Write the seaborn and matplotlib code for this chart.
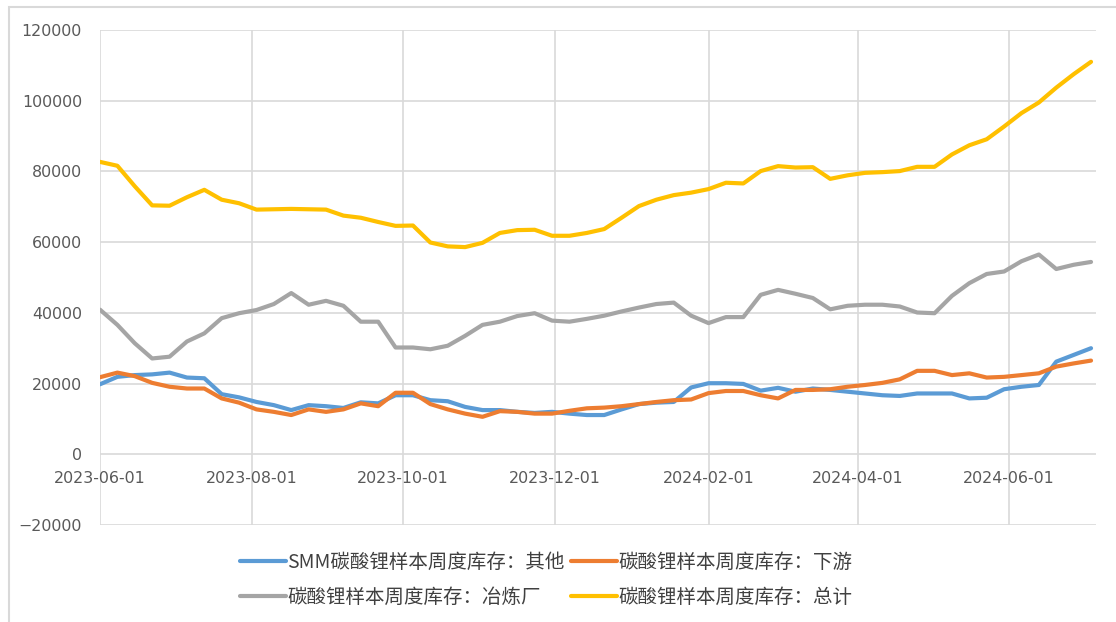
import pandas as pd
import matplotlib.pyplot as plt
import matplotlib.dates as mdates
from matplotlib.patches import Rectangle
import seaborn as sns

# weekly dates, 2023-06-01 .. 2024-07-04
dates = pd.date_range('2023-06-01', periods=58, freq='7D')

other = [19800, 21900, 22400, 22600, 23100, 21700, 21500, 17000, 16100, 14800,
         13900, 12500, 13900, 13600, 13100, 14700, 14400, 16700, 16700, 15300,
         15000, 13400, 12500, 12500, 12000, 11700, 12000, 11500, 11100, 11100,
         12700, 14200, 14600, 14800, 18900, 20100, 20100, 19900, 18000, 18800,
         17700, 18600, 18200, 17700, 17200, 16700, 16500, 17200, 17200, 17200,
         15800, 16000, 18400, 19100, 19600, 26200, 28100, 30000]

downstream = [21800, 23100, 22100, 20200, 19100, 18600, 18600, 15800, 14600, 12700,
              12000, 11100, 12700, 12000, 12700, 14400, 13600, 17400, 17400, 14200,
              12700, 11500, 10600, 12200, 12000, 11500, 11500, 12300, 13000, 13200,
              13600, 14200, 14800, 15300, 15500, 17300, 17900, 17900, 16700, 15800,
              18200, 18200, 18400, 19100, 19600, 20200, 21200, 23600, 23600, 22400,
              22900, 21700, 21900, 22400, 22900, 24800, 25700, 26500]

smelter = [40900, 36600, 31400, 27100, 27600, 31900, 34200, 38500, 39900, 40800,
           42500, 45600, 42300, 43400, 42000, 37500, 37500, 30200, 30200, 29700,
           30700, 33500, 36600, 37500, 39100, 39900, 37800, 37500, 38300, 39200,
           40400, 41500, 42500, 42900, 39200, 37100, 38800, 38800, 45100, 46500,
           45400, 44200, 41000, 42000, 42300, 42300, 41800, 40100, 39900, 44800,
           48400, 51000, 51700, 54600, 56500, 52400, 53600, 54400]

total = [82700, 81600, 75800, 70400, 70300, 72700, 74800, 72000, 71000, 69200,
         69300, 69400, 69300, 69200, 67500, 66900, 65700, 64600, 64700, 59900,
         58800, 58600, 59800, 62600, 63400, 63500, 61800, 61800, 62600, 63700,
         66900, 70200, 72000, 73300, 74000, 75000, 76800, 76600, 80100, 81500,
         81100, 81200, 77900, 78900, 79600, 79800, 80100, 81300, 81300, 84800,
         87400, 89100, 92700, 96500, 99500, 103700, 107500, 111000]

labels = {
    'other': 'SMM碳酸锂样本周度库存：其他',
    'downstream': '碳酸锂样本周度库存：下游',
    'smelter': '碳酸锂样本周度库存：冶炼厂',
    'total': '碳酸锂样本周度库存：总计',
}
colors = {
    'other': '#5B9BD5',
    'downstream': '#ED7D31',
    'smelter': '#A5A5A5',
    'total': '#FFC000',
}

sns.set_theme(style='white')
plt.rcParams['font.family'] = ['DejaVu Sans', 'Noto Sans CJK SC']

fig = plt.figure(figsize=(11.16, 6.22), dpi=100)
ax = fig.add_axes([100 / 1116, 1 - 525 / 622, 996 / 1116, 495 / 622])

series = {'other': other, 'downstream': downstream, 'smelter': smelter, 'total': total}
for key, vals in series.items():
    sns.lineplot(x=dates, y=vals, ax=ax, color=colors[key], lw=3.0,
                 label=labels[key], legend=False,
                 solid_capstyle='round', solid_joinstyle='round')

ax.set_ylim(-20000, 120000)
ax.set_yticks(range(-20000, 120001, 20000))
ax.set_xlim(pd.Timestamp('2023-06-01'), pd.Timestamp('2024-07-06'))
ax.xaxis.set_major_locator(mdates.MonthLocator(bymonth=[2, 4, 6, 8, 10, 12]))
ax.xaxis.set_major_formatter(mdates.DateFormatter('%Y-%m-%d'))

ax.grid(True, color='#D9D9D9', lw=1.2)
for s in ax.spines.values():
    s.set_visible(False)
ax.spines['bottom'].set_position(('data', 0))
ax.tick_params(axis='both', length=0, labelsize=11.4, colors='#595959')
ax.tick_params(axis='x', pad=12)
ax.tick_params(axis='y', pad=13)
ax.set_xlabel('')
ax.set_ylabel('')

# legend, column-wise order: other, smelter | downstream, total
h, l = ax.get_legend_handles_labels()
lookup = dict(zip(l, h))
order = ['other', 'smelter', 'downstream', 'total']
fig.legend([lookup[labels[k]] for k in order], [labels[k] for k in order],
           ncol=2, loc='center', bbox_to_anchor=(546 / 1116, 1 - 580 / 622),
           frameon=False, prop={'family': 'Noto Sans CJK SC', 'size': 14},
           handlelength=2.4, handletextpad=0.05, columnspacing=0.3,
           labelspacing=0.75, labelcolor='#404040')

# chart area border
fig.add_artist(Rectangle((9 / 1116, -0.1), 1.2, 1.1 - 7 / 622,
                         transform=fig.transFigure, fill=False,
                         edgecolor='#D9D9D9', lw=1.5))

fig.savefig('out.png', dpi=100)
